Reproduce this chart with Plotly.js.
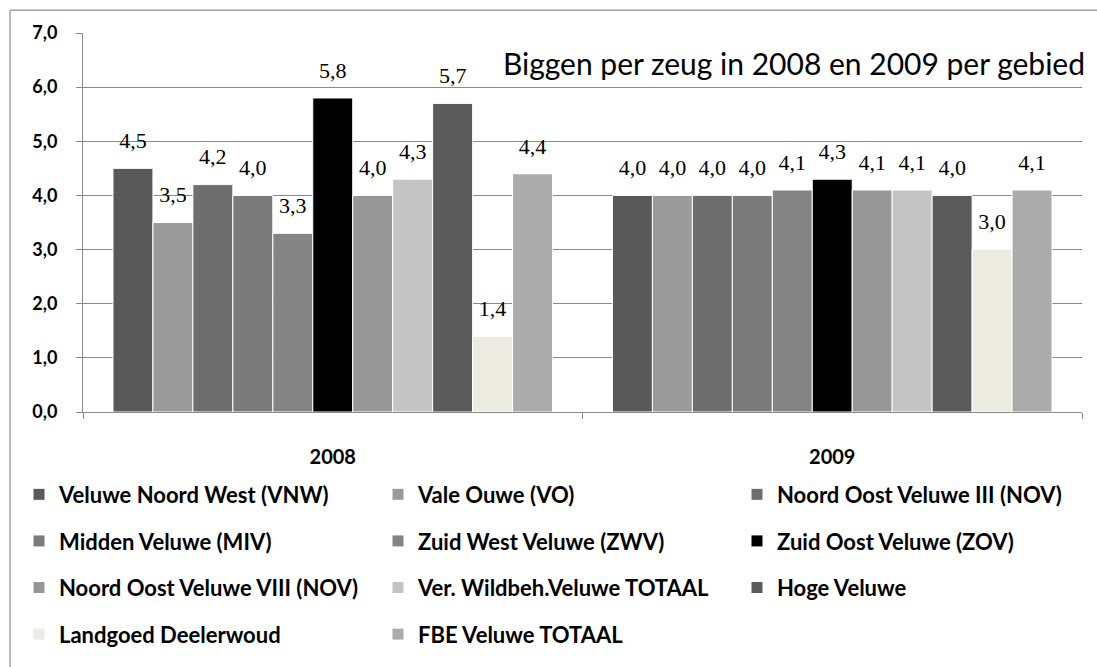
<!DOCTYPE html>
<html>
<head>
<meta charset="utf-8">
<script src="https://cdn.plot.ly/plotly-3.0.1.min.js"></script>
<style>
html,body{margin:0;padding:0;background:#fff;}
#chart{width:1097px;height:667px;}
</style>
</head>
<body>
<div id="chart"></div>
<script>
// ---- data ----
const categories = ['2008', '2009'];
const seriesNames = [
  'Veluwe Noord West (VNW)',
  'Vale Ouwe (VO)',
  'Noord Oost Veluwe III (NOV)',
  'Midden Veluwe (MIV)',
  'Zuid West Veluwe (ZWV)',
  'Zuid Oost Veluwe (ZOV)',
  'Noord Oost Veluwe VIII (NOV)',
  'Ver. Wildbeh.Veluwe TOTAAL',
  'Hoge Veluwe',
  'Landgoed Deelerwoud',
  'FBE Veluwe TOTAAL'
];
const valuesVNW = [4.5, 4.0];
const valuesVO = [3.5, 4.0];
const valuesNOV3 = [4.2, 4.0];
const valuesMIV = [4.0, 4.0];
const valuesZWV = [3.3, 4.1];
const valuesZOV = [5.8, 4.3];
const valuesNOV8 = [4.0, 4.1];
const valuesVWV = [4.3, 4.1];
const valuesHoge = [5.7, 4.0];
const valuesDeelerwoud = [1.4, 3.0];
const valuesFBE = [4.4, 4.1];
const seriesValues = [valuesVNW, valuesVO, valuesNOV3, valuesMIV, valuesZWV, valuesZOV,
                      valuesNOV8, valuesVWV, valuesHoge, valuesDeelerwoud, valuesFBE];
const titleText = 'Biggen per zeug in 2008 en 2009 per gebied';

// ---- style ----
const colors = ['#595959', '#9a9a9a', '#6e6e6e', '#7b7b7b', '#848484', '#000000',
                '#979797', '#c4c4c4', '#5a5a5a', '#ebebe1', '#ababab'];
const legendOf = ['legend', 'legend2', 'legend3', 'legend', 'legend2', 'legend3',
                  'legend', 'legend2', 'legend3', 'legend', 'legend2'];

const sansFont = 'Lato, "Open Sans", sans-serif';
const GAP = 0.12;

const barTraces = seriesNames.map((name, i) => ({
  type: 'bar',
  name: name,
  x: categories,
  y: seriesValues[i],
  legend: legendOf[i],
  legendgroup: 'g' + i,
  marker: {color: colors[i], line: {color: '#ffffff', width: 1}},
  hoverinfo: 'name+y'
}));

// value labels: text-only scatter traces grouped like the bars
const labelTraces = seriesNames.map((name, i) => ({
  type: 'scatter',
  mode: 'markers+text',
  name: name + ' label',
  x: categories,
  y: seriesValues[i],
  showlegend: false,
  legendgroup: 'g' + i,
  marker: {size: 22, color: 'rgba(0,0,0,0)', line: {width: 0}},
  texttemplate: '%{y:.1f}',
  textposition: 'top center',
  cliponaxis: false,
  textfont: {family: '"Liberation Serif", "Times New Roman", serif', size: 22, color: '#000000'},
  hoverinfo: 'skip'
}));

const W = 1097, H = 667;
const mL = 83, mR = W - 1082, mT = 33, mB = H - 415;
const plotW = W - mL - mR, plotH = H - mT - mB;
const px2x = p => (p - mL) / plotW;
const py2y = p => (H - mB - p) / plotH;

const legendCommon = {
  orientation: 'v',
  bgcolor: 'rgba(0,0,0,0)',
  borderwidth: 0,
  font: {family: sansFont, size: 22, color: '#000000', weight: 'bold'},
  tracegroupgap: 15,
  xanchor: 'left',
  yanchor: 'top',
  traceorder: 'grouped'
};

const layout = {
  width: W, height: H,
  margin: {l: mL, r: mR, t: mT, b: mB, pad: 0},
  paper_bgcolor: '#ffffff',
  plot_bgcolor: '#ffffff',
  separators: ',.',
  barmode: 'group',
  bargap: GAP,
  bargroupgap: 0,
  scattermode: 'group',
  scattergap: GAP,
  showlegend: true,
  title: {
    text: titleText,
    font: {family: sansFont, size: 30, color: '#000000'},
    xref: 'container', x: 1085 / W, xanchor: 'right',
    yref: 'container', y: 1 - 64 / H, yanchor: 'middle'
  },
  xaxis: {
    type: 'category',
    showgrid: false,
    showline: true, linecolor: '#8a8a8a', linewidth: 1,
    ticks: 'outside', tickson: 'boundaries', ticklen: 6, tickcolor: '#8a8a8a',
    ticklabelstandoff: 27,
    tickfont: {family: sansFont, size: 20, color: '#000000', weight: 'bold'},
    fixedrange: true
  },
  yaxis: {
    range: [0, 7],
    dtick: 1,
    tickformat: '.1f',
    showgrid: true, gridcolor: '#8a8a8a', gridwidth: 1,
    showline: true, linecolor: '#8a8a8a', linewidth: 1,
    ticks: 'outside', ticklen: 6, tickcolor: '#8a8a8a',
    ticklabelstandoff: 15,
    zeroline: false,
    tickfont: {family: sansFont, size: 18, color: '#000000', weight: 'bold'},
    fixedrange: true
  },
  legend: Object.assign({}, legendCommon, {x: px2x(19), y: py2y(477)}),
  legend2: Object.assign({}, legendCommon, {x: px2x(378), y: py2y(477)}),
  legend3: Object.assign({}, legendCommon, {x: px2x(737), y: py2y(477)}),
  shapes: [
    {type: 'line', xref: 'paper', yref: 'paper',
     x0: px2x(10), x1: px2x(W + 5), y0: py2y(10), y1: py2y(10),
     line: {color: '#a0a0a0', width: 1.5}},
    {type: 'line', xref: 'paper', yref: 'paper',
     x0: px2x(10), x1: px2x(10), y0: py2y(10), y1: py2y(H + 5),
     line: {color: '#a0a0a0', width: 1.5}}
  ]
};

Plotly.newPlot('chart', barTraces.concat(labelTraces), layout, {staticPlot: true, displayModeBar: false});
</script>
</body>
</html>
